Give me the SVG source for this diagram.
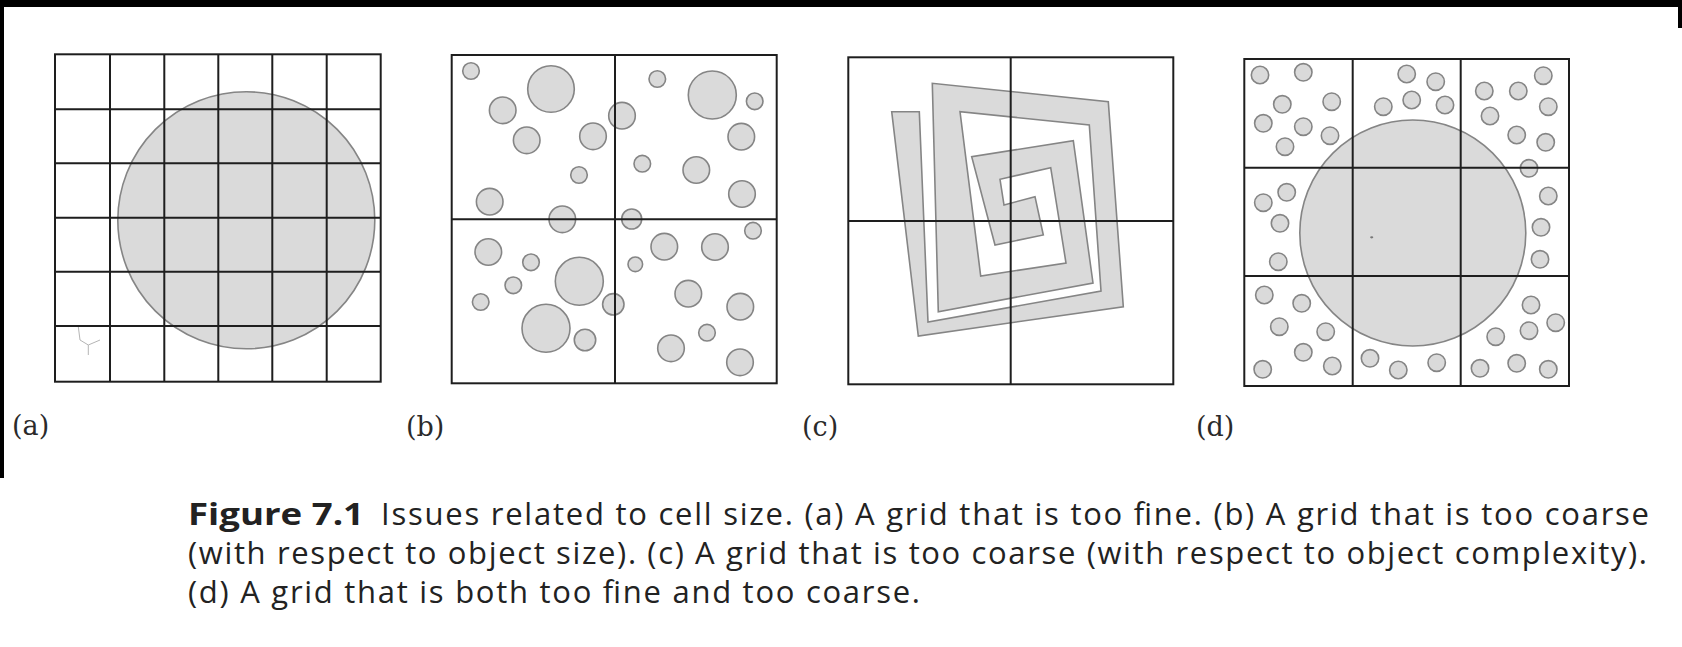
<svg xmlns="http://www.w3.org/2000/svg" width="1682" height="647" viewBox="0 0 1682 647">
<style>
.grid{fill:none;stroke:#1e1e1e;stroke-width:2}
.blob{fill:#dadada;stroke:#858585;stroke-width:1.6}
.lbl{font-family:"DejaVu Serif","Liberation Serif",serif;font-size:27px;fill:#2a2a2a}
.cap{font-family:"Open Sans","Noto Sans","Liberation Sans",sans-serif;font-size:31px;fill:#222}
.capb{font-family:"Open Sans","Noto Sans","Liberation Sans",sans-serif;font-size:31px;font-weight:bold;fill:#222}
</style>
<rect x="0" y="0" width="1682" height="647" fill="#ffffff"/>
<rect x="0" y="0" width="1682" height="7" fill="#000"/>
<rect x="0" y="0" width="4" height="478" fill="#000"/>
<rect x="1678" y="0" width="4" height="28" fill="#000"/>

<g id="panel-a">
<circle class="blob" cx="246.3" cy="220.3" r="128.5"/>
<path d="M78.3 326.7 L80 340 L88.3 345 L100 340 M88.3 345 L88.3 355" fill="none" stroke="#b5b5b5" stroke-width="1"/>
<rect class="grid" x="55" y="54.3" width="325.7" height="327.4"/>
<path class="grid" d="M110 54.3V381.7M164.3 54.3V381.7M218.3 54.3V381.7M272.3 54.3V381.7M326.7 54.3V381.7M55 109.3H380.7M55 163.3H380.7M55 217.7H380.7M55 271.7H380.7M55 326H380.7"/>
<text class="lbl" x="12" y="435">(a)</text>
</g>

<g id="panel-b">
<circle class="blob" cx="471" cy="71" r="8.3"/>
<circle class="blob" cx="551" cy="89" r="23.3"/>
<circle class="blob" cx="502.7" cy="110.3" r="13.3"/>
<circle class="blob" cx="526.7" cy="140.3" r="13.3"/>
<circle class="blob" cx="593" cy="136.3" r="13.3"/>
<circle class="blob" cx="622" cy="115.7" r="13.3"/>
<circle class="blob" cx="579" cy="175" r="8.3"/>
<circle class="blob" cx="489.7" cy="201.7" r="13.3"/>
<circle class="blob" cx="562.3" cy="219.3" r="13.3"/>
<circle class="blob" cx="657.3" cy="79" r="8.3"/>
<circle class="blob" cx="712.3" cy="95" r="24"/>
<circle class="blob" cx="754.7" cy="101.3" r="8.3"/>
<circle class="blob" cx="741.3" cy="136.7" r="13.3"/>
<circle class="blob" cx="642.3" cy="163.7" r="8.3"/>
<circle class="blob" cx="696.3" cy="170" r="13.3"/>
<circle class="blob" cx="742" cy="194" r="13.3"/>
<circle class="blob" cx="631.7" cy="219" r="10"/>
<circle class="blob" cx="753" cy="230.7" r="8.3"/>
<circle class="blob" cx="488.3" cy="252" r="13.3"/>
<circle class="blob" cx="531" cy="262.3" r="8.3"/>
<circle class="blob" cx="513.3" cy="285.3" r="8.3"/>
<circle class="blob" cx="480.7" cy="302" r="8.3"/>
<circle class="blob" cx="579.3" cy="281.3" r="24"/>
<circle class="blob" cx="613.3" cy="304.3" r="10.7"/>
<circle class="blob" cx="546" cy="328.3" r="24"/>
<circle class="blob" cx="585" cy="340" r="10.7"/>
<circle class="blob" cx="664.3" cy="246.7" r="13.3"/>
<circle class="blob" cx="715" cy="247" r="13.3"/>
<circle class="blob" cx="635.3" cy="264.3" r="7.3"/>
<circle class="blob" cx="688.3" cy="293.7" r="13.3"/>
<circle class="blob" cx="740.3" cy="306.7" r="13.3"/>
<circle class="blob" cx="707" cy="332.7" r="8.3"/>
<circle class="blob" cx="671" cy="348.3" r="13.3"/>
<circle class="blob" cx="740" cy="362.3" r="13.3"/>
<rect class="grid" x="451.7" y="55" width="325" height="328.3"/>
<path class="grid" d="M615 55V383.3M451.7 219.3H776.7"/>
<text class="lbl" x="406" y="436">(b)</text>
</g>

<g id="panel-c">
<path class="blob" d="M891.7 111.7 L918.3 336 L1123.3 306.7 L1108.3 101.7 L932.3 83.3 L938.3 311.7 L1093 283 L1073.3 140.7 L971.7 156.7 L995 245 L1043.3 235 L1035 196.7 L1004 205 L1000 179.3 L1050.7 167.7 L1066 263 L980.7 276 L960 111.7 L1089.3 125 L1101 291 L928 322 L919.3 111.7 Z" stroke-linejoin="miter"/>
<rect class="grid" x="848.3" y="57.3" width="325" height="327"/>
<path class="grid" d="M1010.7 57.3V384.3M848.3 221H1173.3"/>
<text class="lbl" x="802" y="436">(c)</text>
</g>

<g id="panel-d">
<circle class="blob" cx="1412.8" cy="233" r="113"/>
<ellipse cx="1371.7" cy="237.3" rx="1.6" ry="1.1" fill="#777"/>
<g id="dots-d">
<circle class="blob" cx="1260" cy="75" r="8.7"/>
<circle class="blob" cx="1303.3" cy="72.3" r="8.7"/>
<circle class="blob" cx="1282.3" cy="104.3" r="8.7"/>
<circle class="blob" cx="1331.7" cy="101.7" r="8.7"/>
<circle class="blob" cx="1263.3" cy="123.3" r="8.7"/>
<circle class="blob" cx="1303.3" cy="126.7" r="8.7"/>
<circle class="blob" cx="1330" cy="135.7" r="8.7"/>
<circle class="blob" cx="1285" cy="146.7" r="8.7"/>
<circle class="blob" cx="1406.7" cy="74" r="8.7"/>
<circle class="blob" cx="1435.7" cy="81.7" r="8.7"/>
<circle class="blob" cx="1411.7" cy="100" r="8.7"/>
<circle class="blob" cx="1383.3" cy="106.7" r="8.7"/>
<circle class="blob" cx="1445" cy="105" r="8.7"/>
<circle class="blob" cx="1543.3" cy="75.7" r="8.7"/>
<circle class="blob" cx="1484.3" cy="91" r="8.7"/>
<circle class="blob" cx="1518.3" cy="91" r="8.7"/>
<circle class="blob" cx="1548.3" cy="106.7" r="8.7"/>
<circle class="blob" cx="1490" cy="116" r="8.7"/>
<circle class="blob" cx="1516.7" cy="135" r="8.7"/>
<circle class="blob" cx="1545.7" cy="142.3" r="8.7"/>
<circle class="blob" cx="1529" cy="168.3" r="8.7"/>
<circle class="blob" cx="1286.7" cy="192.3" r="8.7"/>
<circle class="blob" cx="1263.3" cy="202.7" r="8.7"/>
<circle class="blob" cx="1280" cy="223.3" r="8.7"/>
<circle class="blob" cx="1278.3" cy="261.7" r="8.7"/>
<circle class="blob" cx="1548.3" cy="196" r="8.7"/>
<circle class="blob" cx="1541" cy="227.3" r="8.7"/>
<circle class="blob" cx="1540" cy="259.3" r="8.7"/>
<circle class="blob" cx="1264.3" cy="295" r="8.7"/>
<circle class="blob" cx="1301.7" cy="303.3" r="8.7"/>
<circle class="blob" cx="1279.3" cy="326.7" r="8.7"/>
<circle class="blob" cx="1325.7" cy="331.7" r="8.7"/>
<circle class="blob" cx="1303.3" cy="352.3" r="8.7"/>
<circle class="blob" cx="1262.7" cy="369.3" r="8.7"/>
<circle class="blob" cx="1332.3" cy="366" r="8.7"/>
<circle class="blob" cx="1370" cy="358.3" r="8.7"/>
<circle class="blob" cx="1398.3" cy="370" r="8.7"/>
<circle class="blob" cx="1436.7" cy="362.7" r="8.7"/>
<circle class="blob" cx="1531" cy="305" r="8.7"/>
<circle class="blob" cx="1555.7" cy="322.7" r="8.7"/>
<circle class="blob" cx="1529" cy="330.7" r="8.7"/>
<circle class="blob" cx="1495.7" cy="336.7" r="8.7"/>
<circle class="blob" cx="1480" cy="368.3" r="8.7"/>
<circle class="blob" cx="1516.7" cy="363.3" r="8.7"/>
<circle class="blob" cx="1548.3" cy="369.3" r="8.7"/>
</g>
<rect class="grid" x="1244.3" y="59" width="324.7" height="327"/>
<path class="grid" d="M1352.7 59V386M1460.7 59V386M1244.3 167.7H1569M1244.3 276H1569"/>
<text class="lbl" x="1196" y="436">(d)</text>
</g>

<g id="caption">
<text class="capb" x="188" y="525" textLength="176" lengthAdjust="spacingAndGlyphs">Figure 7.1</text>
<text class="cap" x="381" y="525" textLength="1268">Issues related to cell size. (a) A grid that is too fine. (b) A grid that is too coarse</text>
<text class="cap" x="188" y="564" textLength="1459">(with respect to object size). (c) A grid that is too coarse (with respect to object complexity).</text>
<text class="cap" x="188" y="603" textLength="732">(d) A grid that is both too fine and too coarse.</text>
</g>
</svg>
